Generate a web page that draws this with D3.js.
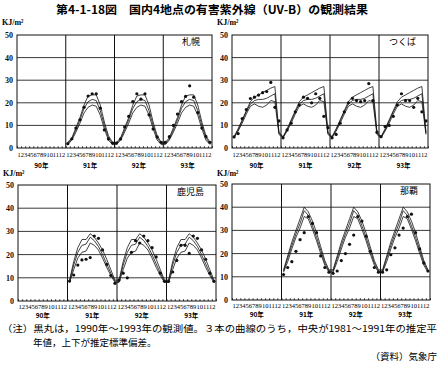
<!DOCTYPE html>
<html><head><meta charset="utf-8">
<script src="https://cdn.jsdelivr.net/npm/d3@7"></script>
<style>
html,body{margin:0;padding:0;background:#fff;}
svg{display:block;}
</style></head>
<body>
<svg id="chart" width="443" height="369"></svg>
<script>
// ---------- data ----------
const monthLabel = "123456789101112";
const yearLabels = ["90年", "91年", "92年", "93年"];
const yTicks = [0, 10, 20, 30, 40, 50];

// 札幌
const sapporoUpper = [2.5, 4.5, 9, 13.5, 19, 23, 23.5, 23.5, 19, 11.5, 5.5, 2.5];
const sapporoMean  = [2, 4, 8, 12.5, 17.5, 20.5, 21.5, 21, 16.5, 10, 4.5, 2];
const sapporoLower = [1.5, 3.5, 7, 11, 15.5, 18, 19, 18.5, 14.5, 8.5, 3.5, 1.5];
const sapporoObs91 = [1.9, 4.1, 8.8, 12.5, 18, 23, 24, 24, 17.6, 8, 4, 2.2];
const sapporoObs92 = [2.2, 4, 9.3, 14, 20.5, 24, 21.6, 24, 14.7, 8.4, 4.9, 2.5];
const sapporoObs93 = [2.5, 5, 10, 15, 20.5, 22.8, 27.5, 22.5, 15.7, 8.8, 5.1, 2.5];

// つくば
const tsukubaUpper = [5, 8.5, 12.5, 16.5, 20.5, 22.5, 23.5, 24.5, 25.5, 26.5, 27.2, 7];
const tsukubaMean  = [4.8, 8, 12, 16, 19.5, 21, 21.5, 21.5, 22, 23, 24, 6.5];
const tsukubaLower = [4.5, 7.5, 11, 15, 18.5, 19.5, 18.5, 18, 19, 21, 20.5, 6];
const tsukubaObs90 = [4.9, 6.4, 13, 17, 21.9, 22.5, 23.4, 24.5, 25, 29, 18, 12];
const tsukubaObs91 = [4.5, 8, 11, 16, 19, 22.5, 22, 20, 24, 22, 14, 9];
const tsukubaObs92 = [4.5, 6, 11, 16, 20, 22, 21, 20.5, 21, 28.5, 21, 7];
const tsukubaObs93 = [5, 9.5, 10, 14, 19, 24, 21, 21, 18, 22, 16, 12];

// 鹿児島
const kagoshimaUpper = [9, 17, 23, 26.5, 26.5, 29, 27.5, 25, 22, 18, 13.5, 9];
const kagoshimaMean  = [8.5, 15.5, 21, 24, 24.5, 27.5, 26, 23.5, 20, 16, 12, 8.5];
const kagoshimaLower = [8, 13.5, 18.5, 21, 21.5, 25, 24, 22, 18.5, 14.5, 11, 8];
const kagoshimaObs91 = [8.6, 11.2, 15.5, 17.7, 18, 18.7, 28, 27, 22, 15.8, 11, 7.6];
const kagoshimaObs92 = [9, 12, 10, 21, 26, 25, 28, 26, 23, 19, 12, 8.5];
const kagoshimaObs93 = [8.5, 12.5, 17.5, 24, 24, 20.5, 28, 27, 22, 18, 12, 8.5];

// 那覇
const nahaUpper = [13, 19, 25, 30, 35, 40, 38, 34, 29, 23, 17, 13];
const nahaMean  = [12.5, 18, 23.5, 28.5, 33, 38.5, 36.5, 32, 27, 21.5, 16, 12.5];
const nahaLower = [12, 16.5, 22, 27, 31, 36, 35, 30.5, 25.5, 20, 15, 12];
const nahaObs91 = [11, 14, 16.5, 21, 26, 29, 36, 33, 29, 19, 14, 12];
const nahaObs92 = [11.5, 12.5, 17, 20, 24, 28, 36, 34, 27.5, 21, 14, 12];
const nahaObs93 = [12, 13, 19.5, 22.5, 28, 31, 36, 37, 29, 22, 16, 12.5];

// ---------- drawing ----------
const svg = d3.select("#chart");
const serif = "'Liberation Serif','DejaVu Serif',serif";
const jp = "'Noto Sans CJK JP','Noto Sans',sans-serif";

svg.append("text").attr("x", 212).attr("y", 14).attr("text-anchor", "middle")
  .attr("font-family", jp).attr("font-size", 11.5).attr("font-weight", 700)
  .attr("textLength", 312).attr("lengthAdjust", "spacingAndGlyphs")
  .text("第4-1-18図　国内4地点の有害紫外線（UV-B）の観測結果");

const panels = [
  {name: "札幌", left: 17, right: 212, top: 35, bottom: 148, unitY: 25, mOff: 9, yOff: 20,
   upper: sapporoUpper, mean: sapporoMean, lower: sapporoLower, curveYears: [1, 2, 3],
   obs: [null, sapporoObs91, sapporoObs92, sapporoObs93]},
  {name: "つくば", left: 232, right: 428, top: 35, bottom: 148, unitY: 25, mOff: 9, yOff: 20,
   upper: tsukubaUpper, mean: tsukubaMean, lower: tsukubaLower, curveYears: [0, 1, 2, 3],
   obs: [tsukubaObs90, tsukubaObs91, tsukubaObs92, tsukubaObs93]},
  {name: "鹿児島", left: 18, right: 216, top: 185, bottom: 301, unitY: 176, mOff: 7.5, yOff: 16.5,
   upper: kagoshimaUpper, mean: kagoshimaMean, lower: kagoshimaLower, curveYears: [1, 2, 3],
   obs: [null, kagoshimaObs91, kagoshimaObs92, kagoshimaObs93]},
  {name: "那覇", left: 232, right: 430, top: 184, bottom: 300, unitY: 176, mOff: 7.5, yOff: 16.5,
   upper: nahaUpper, mean: nahaMean, lower: nahaLower, curveYears: [1, 2, 3],
   obs: [null, nahaObs91, nahaObs92, nahaObs93]}
];

panels.forEach(p => {
  const g = svg.append("g");
  const x = d3.scaleLinear().domain([0, 48]).range([p.left, p.right]);
  const y = d3.scaleLinear().domain([0, 50]).range([p.bottom, p.top]);

  // unit label
  g.append("text").attr("x", p.left - 15).attr("y", p.unitY)
    .attr("font-family", serif).attr("font-size", 8).attr("font-weight", 700)
    .text("KJ/m²");

  // horizontal grid
  g.selectAll("line.h").data(yTicks.slice(1, -1)).join("line")
    .attr("x1", p.left).attr("x2", p.right)
    .attr("y1", d => y(d)).attr("y2", d => y(d))
    .attr("stroke", "#222").attr("stroke-width", 0.9);
  // year dividers
  g.selectAll("line.v").data([12, 24, 36]).join("line")
    .attr("x1", d => x(d)).attr("x2", d => x(d))
    .attr("y1", p.top).attr("y2", p.bottom)
    .attr("stroke", "#111").attr("stroke-width", 1);
  // frame
  g.append("rect").attr("x", p.left).attr("y", p.top)
    .attr("width", p.right - p.left).attr("height", p.bottom - p.top)
    .attr("fill", "none").attr("stroke", "#111").attr("stroke-width", 1);

  // y axis
  const ya = g.append("g").attr("transform", `translate(${p.left},0)`)
    .call(d3.axisLeft(y).tickValues(yTicks).tickSize(0).tickPadding(4));
  ya.select(".domain").remove();
  ya.selectAll("text").attr("font-family", serif).attr("font-size", 8)
    .attr("font-weight", 700).attr("fill", "#111");

  // month ticks
  const xa = g.append("g").attr("transform", `translate(0,${p.bottom})`)
    .call(d3.axisBottom(x).tickValues(d3.range(0, 49)).tickSize(-1.8).tickFormat(""));
  xa.select(".domain").remove();
  xa.selectAll("line").attr("stroke", "#111").attr("stroke-width", 0.8);

  // month labels & year labels
  yearLabels.forEach((yl, i) => {
    const x0 = x(i * 12), x1 = x(i * 12 + 12);
    g.append("text").attr("x", x0 + 0.5).attr("y", p.bottom + p.mOff)
      .attr("font-family", serif).attr("font-size", 5.5)
      .attr("textLength", x1 - x0 - 1).attr("lengthAdjust", "spacingAndGlyphs")
      .text(monthLabel);
    g.append("text").attr("x", (x0 + x1) / 2).attr("y", p.bottom + p.yOff)
      .attr("text-anchor", "middle").attr("font-family", jp).attr("font-size", 6.5)
      .attr("font-weight", 700).text(yl);
  });

  // station name
  g.append("text").attr("x", p.right - 12).attr("y", p.top + 10)
    .attr("text-anchor", "end").attr("font-family", jp).attr("font-size", 9)
    .text(p.name);

  // curves
  const line = d3.line().x(d => x(d.t)).y(d => y(d.v));
  [p.upper, p.mean, p.lower].forEach(arr => {
    const pts = p.curveYears.flatMap(yi => arr.map((v, m) => ({t: yi * 12 + m + 0.5, v})));
    g.append("path").datum(pts).attr("d", line)
      .attr("fill", "none").attr("stroke", "#111").attr("stroke-width", 0.8);
  });

  // observations
  const obsPts = p.obs.flatMap((arr, yi) => arr ? arr.map((v, m) => ({t: yi * 12 + m + 0.5, v})) : []);
  g.selectAll("circle").data(obsPts).join("circle")
    .attr("cx", d => x(d.t)).attr("cy", d => y(d.v)).attr("r", 1.6)
    .attr("fill", "#111");
});

// notes
svg.append("text").attr("x", 2).attr("y", 332)
  .attr("font-family", jp).attr("font-size", 9.5)
  .attr("textLength", 435).attr("lengthAdjust", "spacingAndGlyphs")
  .text("（注）黒丸は，1990年～1993年の観測値。３本の曲線のうち，中央が1981～1991年の推定平");
svg.append("text").attr("x", 33).attr("y", 346)
  .attr("font-family", jp).attr("font-size", 9.5)
  .text("年値，上下が推定標準偏差。");
svg.append("text").attr("x", 437).attr("y", 360).attr("text-anchor", "end")
  .attr("font-family", jp).attr("font-size", 9.5)
  .text("（資料）気象庁");
</script>
</body></html>
